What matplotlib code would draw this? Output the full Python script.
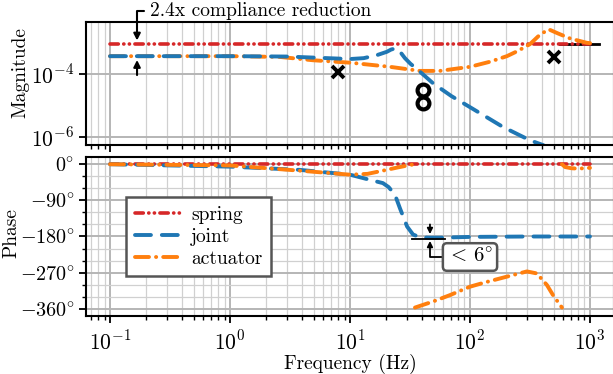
import numpy as np
import matplotlib
matplotlib.use('Agg')
import matplotlib.pyplot as plt
from matplotlib.ticker import FuncFormatter, MultipleLocator, NullLocator, NullFormatter

plt.rcParams['font.family'] = 'serif'
plt.rcParams['font.serif'] = ['cmr10']
plt.rcParams['mathtext.fontset'] = 'cm'
plt.rcParams['axes.formatter.use_mathtext'] = True
plt.rcParams['font.size'] = 14

# spring
f_spring = [0.1, 1000]
mag_spring = [9.0e-4, 9.0e-4]
ph_spring = [0, 0]

# joint
f_joint = [0.1, 1, 3, 10, 13, 16.8, 20.3, 22, 23.7, 25.5, 28.7, 32, 36.9, 49.2, 70, 100, 188, 316, 405, 1000]
mag_joint = [3.7e-4, 3.7e-4, 3.6e-4, 3.0e-4, 3.2e-4, 4.0e-4, 5.1e-4, 6.0e-4, 6.5e-4, 5.8e-4, 3.2e-4,
             2.1e-4, 1.35e-4, 5.1e-5, 2.0e-5, 8.9e-6, 2.1e-6, 7.9e-7, 5.6e-7, 7.9e-8]
fp_joint = [0.1, 1, 3.8, 10, 14.7, 18.8, 21, 23.7, 26.1, 29.9, 33.5, 38.3, 46, 56, 100, 316, 1000]
ph_joint = [0, -6, -14, -26, -39, -47, -57, -76, -110, -155, -175, -182, -183, -183, -181, -180, -180]

# actuator
f_act = [0.1, 1, 2.6, 4.9, 10, 21.5, 38.3, 56, 100, 146, 203, 250, 316, 383, 453, 541, 683, 943, 1000]
mag_act = [3.7e-4, 3.7e-4, 3.5e-4, 2.75e-4, 2.3e-4, 1.7e-4, 1.26e-4, 1.26e-4, 1.7e-4, 2.45e-4, 3.7e-4,
           5.4e-4, 8.9e-4, 1.78e-3, 2.63e-3, 1.95e-3, 1.35e-3, 9.8e-4, 9.6e-4]
fp_act = [0.1, 1, 3.8, 10, 14, 18.8, 25, 31.6, 34.8, np.nan,
          34.8, 49.2, 68.1, 100, 138.6, 203, 298, 361, 438, 492, 584, np.nan,
          584, 620, 700, 800, 1000]
ph_act = [0, -3, -16, -26, -24, -16, -8, -2, 0, np.nan,
          -357, -342, -326, -305, -293, -280, -267, -272, -301, -326, -357, np.nan,
          0, -7, -10, -11, -9]

# poles / zeros markers
f_zeros = [7.9, 501]
m_zeros = [1.15e-4, 3.55e-4]
f_poles = [40.6, 40.6]
m_poles = [3.1e-5, 1.2e-5]

xticks = [0.1, 1, 10, 100, 1000]
xticklabels = [r'$10^{-1}$', r'$10^{0}$', r'$10^{1}$', r'$10^{2}$', r'$10^{3}$']

red = '#d62728'
blue = '#1f77b4'
orange = '#ff7f0e'
ls_spring = (0, (2.3, 1.5, 0.05, 1.5, 0.05, 1.5))
ls_joint = (0, (4.1, 2.8))
ls_act = (0, (3.6, 1.8, 0.05, 1.8))

fig = plt.figure(figsize=(6.13, 3.74), dpi=100)
ax1 = fig.add_axes([0.1403, 0.6123, 0.8613, 0.3289])
ax2 = fig.add_axes([0.1403, 0.1551, 0.8613, 0.4251], sharex=ax1)

for ax in (ax1, ax2):
    ax.set_xscale('log')
    ax.grid(True, which='major', color='#b5b5b5', lw=1.4)
    ax.grid(True, which='minor', color='#d0d0d0', lw=0.9)
    ax.set_axisbelow(True)
    for s in ax.spines.values():
        s.set_linewidth(1.5)
    ax.tick_params(which='major', length=5, width=1.3, labelsize=15.5)
    ax.tick_params(which='minor', length=3, width=1.0)
    ax.tick_params(axis='x', which='major', pad=5)
ax2.tick_params(axis='y', labelsize=14.5)

# magnitude
ax1.set_yscale('log')
ax1.plot([560, 1200], [9.0e-4, 9.0e-4], color='k', lw=2)
ax1.plot(f_spring, mag_spring, color=red, lw=2.6, ls=ls_spring, dash_capstyle='round')
ax1.plot(f_act, mag_act, color=orange, lw=2.8, ls=ls_act, dash_capstyle='round')
ax1.plot(f_joint, mag_joint, color=blue, lw=2.8, ls=ls_joint, dash_capstyle='round')
ax1.plot(f_zeros, m_zeros, 'x', color='k', ms=9, mew=2.8)
ax1.plot(f_poles, m_poles, 'o', mfc='none', mec='k', ms=8.5, mew=3)
ax1.set_ylim(5.6e-7, 4.5e-3)
ax1.set_xlim(10 ** -1.2, 10 ** 3.2)
ax1.set_yticks([1e-6, 1e-4])
ax1.set_yticklabels([r'$10^{-6}$', r'$10^{-4}$'])
ax1.yaxis.set_minor_locator(NullLocator())
ax1.yaxis.set_minor_formatter(NullFormatter())
plt.setp(ax1.get_xticklabels(), visible=False)
ax1.set_ylabel('Magnitude')
ax1.yaxis.set_label_coords(-0.108, 0.585)

ax1.annotate('2.4x compliance reduction', xy=(0.168, 1.16e-3),
             xytext=(150 / 613, 1 - 11 / 374), textcoords='figure fraction',
             ha='left', va='center',
             arrowprops=dict(arrowstyle='-|>', color='k', lw=1.5, shrinkA=2, shrinkB=0,
                             mutation_scale=10, relpos=(0, 0.5),
                             connectionstyle='angle,angleA=0,angleB=90,rad=0'))
ax1.annotate('', xy=(0.168, 2.8e-4), xytext=(0.168, 9.3e-5),
             arrowprops=dict(arrowstyle='-|>', color='k', lw=1.5, shrinkA=0, shrinkB=0,
                             mutation_scale=10))

# phase
l1, = ax2.plot(f_spring, ph_spring, color=red, lw=2.6, ls=ls_spring, dash_capstyle='round', label='spring')
l2, = ax2.plot(fp_joint, ph_joint, color=blue, lw=2.8, ls=ls_joint, dash_capstyle='round', label='joint')
l3, = ax2.plot(fp_act, ph_act, color=orange, lw=2.8, ls=ls_act, dash_capstyle='round', label='actuator')
ax2.plot([32.8, 62], [-186, -186], color='k', lw=1.3)
ax2.set_ylim(-378, 18)
ax2.yaxis.set_major_locator(MultipleLocator(90))
ax2.yaxis.set_minor_locator(MultipleLocator(30))
ax2.yaxis.set_major_formatter(FuncFormatter(lambda v, p: r'$%d\!^\circ$' % round(v)))
ax2.set_xticks(xticks)
ax2.set_xticklabels(xticklabels)
ax2.set_xlim(10 ** -1.2, 10 ** 3.2)
ax2.set_ylabel('Phase')
ax2.yaxis.set_label_coords(-0.124, 0.52)
ax2.set_xlabel('Frequency (Hz)', labelpad=0)

ax2.annotate('', xy=(46.4, -174), xytext=(46.4, -150),
             arrowprops=dict(arrowstyle='-|>', color='k', lw=1.3, shrinkA=0, shrinkB=0,
                             mutation_scale=8))
ax2.annotate(r'$<\,6\!^\circ$', xy=(46.4, -191), xytext=(470 / 613, 1 - 257 / 374),
             textcoords='figure fraction', ha='center', va='center', fontsize=15,
             bbox=dict(boxstyle='round,pad=0.2', fc='white', ec='#555555', lw=1.8),
             arrowprops=dict(arrowstyle='-|>', color='k', lw=1.3, shrinkA=0, shrinkB=0,
                             mutation_scale=8, relpos=(0, 0.5),
                             connectionstyle='angle,angleA=0,angleB=90,rad=0'))

leg = ax2.legend(handles=[l1, l2, l3], loc='upper left', bbox_to_anchor=(0.076, 0.748),
                 borderaxespad=0, fancybox=False, framealpha=1, edgecolor='#555555',
                 handlelength=2.4, labelspacing=0.2, handletextpad=0.5, borderpad=0.45)
leg.get_frame().set_linewidth(1.8)

fig.savefig('out.png', dpi=100)
